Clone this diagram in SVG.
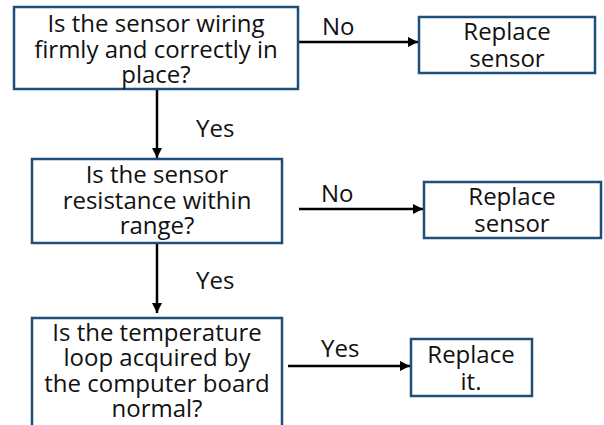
<svg xmlns="http://www.w3.org/2000/svg" width="604" height="425" viewBox="0 0 604 425">
<style>
.box{fill:#fff;stroke:#1f4e79;stroke-width:2.5}
.t{font-family:"Open Sans","Liberation Sans",sans-serif;font-size:24px;fill:#111;text-anchor:middle}
.l{font-family:"Open Sans","Liberation Sans",sans-serif;font-size:24px;fill:#111}
.c{stroke:#000;stroke-width:2.5;fill:none}
</style>
<defs>
<marker id="ah" markerWidth="10" markerHeight="10" refX="10" refY="5" orient="auto" markerUnits="userSpaceOnUse" viewBox="0 0 10 10">
<path d="M0,0 L10,5 L0,10 z" fill="#000"/>
</marker>
</defs>
<rect width="604" height="425" fill="#fff"/>
<g id="connectors">
<line class="c" x1="296" y1="42" x2="418" y2="42" marker-end="url(#ah)"/>
<line class="c" x1="157" y1="90" x2="157" y2="158" marker-end="url(#ah)"/>
<line class="c" x1="299" y1="209" x2="423" y2="209" marker-end="url(#ah)"/>
<line class="c" x1="157" y1="244" x2="157" y2="313" marker-end="url(#ah)"/>
<line class="c" x1="288" y1="366" x2="410" y2="366" marker-end="url(#ah)"/>
<text class="l" x="322" y="35">No</text>
<text class="l" x="196" y="137">Yes</text>
<text class="l" x="321" y="202">No</text>
<text class="l" x="196" y="289">Yes</text>
<text class="l" x="321" y="357">Yes</text>
</g>
<g id="q1">
<rect class="box" x="14" y="7" width="284" height="82"/>
<text class="t" x="156" y="32">Is the sensor wiring</text>
<text class="t" x="156" y="58">firmly and correctly in</text>
<text class="t" x="156" y="83">place?</text>
</g>
<g id="r1">
<rect class="box" x="419" y="17" width="176" height="56"/>
<text class="t" x="507" y="40">Replace</text>
<text class="t" x="507" y="67">sensor</text>
</g>
<g id="q2">
<rect class="box" x="32" y="159" width="250" height="84"/>
<text class="t" x="157" y="183">Is the sensor</text>
<text class="t" x="157" y="209">resistance within</text>
<text class="t" x="157" y="234">range?</text>
</g>
<g id="r2">
<rect class="box" x="424" y="182" width="177" height="56"/>
<text class="t" x="512" y="205">Replace</text>
<text class="t" x="512" y="232">sensor</text>
</g>
<g id="q3">
<rect class="box" x="32" y="318" width="250" height="120"/>
<text class="t" x="157" y="341">Is the temperature</text>
<text class="t" x="157" y="366">loop acquired by</text>
<text class="t" x="157" y="392">the computer board</text>
<text class="t" x="157" y="417">normal?</text>
</g>
<g id="r3">
<rect class="box" x="411" y="339" width="121" height="57"/>
<text class="t" x="471" y="363">Replace</text>
<text class="t" x="471" y="390">it.</text>
</g>
</svg>
